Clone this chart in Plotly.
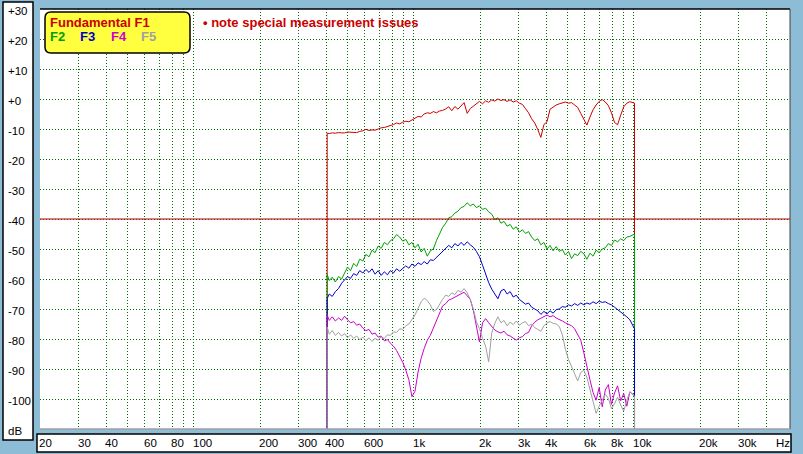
import numpy as np
import plotly.graph_objects as go

# ---------------- data ----------------
FREQ_HZ = [404, 413, 426, 440, 455, 470, 485, 500, 516, 533,
           550, 568, 587, 606, 626, 646, 667, 689, 711, 735,
           759, 783, 809, 835, 863, 891, 920, 950, 981, 1013,
           1046, 1080, 1115, 1152, 1189, 1228, 1268, 1310, 1352, 1397,
           1442, 1489, 1538, 1588, 1640, 1693, 1749, 1806, 1865, 1926,
           1989, 2054, 2121, 2190, 2262, 2335, 2412, 2490, 2572, 2656,
           2742, 2832, 2924, 3020, 3118, 3220, 3325, 3434, 3546, 3662,
           3781, 3905, 4032, 4164, 4300, 4440, 4585, 4735, 4889, 5049,
           5214, 5384, 5560, 5741, 5929, 6122, 6322, 6529, 6742, 6962,
           7189, 7424, 7666, 7917, 8175, 8442, 8718, 9002, 9296, 9600,
           10080]

F1_DB = [-11.4, -11.5, -11.3, -11.4, -11.2, -11.3, -11.3, -11.0, -11.1, -11.0,
         -11.2, -10.8, -10.6, -10.1, -10.5, -10.3, -10.4, -10.0, -9.6, -9.5,
         -9.2, -8.9, -8.5, -8.0, -8.3, -7.7, -7.4, -7.6, -6.9, -6.2,
         -5.8, -6.0, -5.0, -4.6, -4.8, -4.2, -4.6, -4.0, -3.8, -3.3,
         -2.6, -3.9, -2.5, -3.4, -2.2, -1.2, -4.8, -3.2, -2.4, -1.6,
         -0.8, -1.6, -0.6, -1.1, -0.3, -0.7, 0.0, -0.5, -0.2, -0.8,
         -0.3, -1.0, -0.6, -1.4, -1.8, -3.2, -4.6, -6.6, -8.0, -10.2,
         -12.8, -8.5, -7.6, -3.4, -2.6, -2.0, -1.6, -1.2, -1.0, -1.4,
         -1.2, -2.0, -2.8, -4.8, -6.6, -8.7, -6.0, -3.6, -2.0, -0.8,
         -0.2, -1.0, -2.2, -4.6, -7.8, -8.6, -5.4, -2.6, -1.4, -0.9,
         -1.4]

F2_DB = [-58.5, -60.5, -59.4, -61.0, -59.2, -60.0, -58.0, -56.0, -57.2, -54.8,
         -55.8, -53.4, -54.0, -51.8, -52.6, -50.4, -51.2, -49.0, -49.8, -47.8,
         -48.6, -47.2, -46.6, -45.2, -46.0, -47.4, -46.8, -48.6, -47.8, -49.6,
         -48.4, -51.0, -49.8, -52.4, -50.6, -50.0, -47.2, -45.0, -42.8, -41.4,
         -39.6, -39.2, -38.0, -37.4, -36.2, -35.8, -34.6, -35.6, -35.0, -36.2,
         -35.6, -36.8, -36.4, -37.6, -38.4, -40.2, -39.6, -41.4, -40.8, -42.4,
         -41.8, -43.4, -42.6, -44.4, -43.6, -44.8, -44.2, -46.0, -47.2, -46.6,
         -48.6, -47.8, -50.0, -48.8, -50.6, -49.2, -50.8, -50.2, -52.0, -50.8,
         -53.2, -51.6, -52.2, -50.8, -51.6, -53.4, -51.4, -52.4, -50.4, -51.2,
         -50.0, -49.6, -48.2, -48.8, -47.0, -47.6, -46.6, -47.2, -46.0, -45.8,
         -45.0]

F3_DB = [-66.5, -65.0, -65.8, -64.2, -63.2, -61.4, -60.4, -59.2, -59.8, -58.2,
         -58.8, -57.2, -58.0, -56.8, -57.8, -56.6, -58.4, -57.2, -58.8, -57.6,
         -58.6, -57.2, -58.0, -56.6, -57.4, -56.4, -55.6, -56.4, -55.0, -55.8,
         -54.6, -55.2, -54.2, -55.0, -53.6, -53.8, -52.8, -51.8, -50.6, -49.8,
         -48.8, -49.6, -48.2, -49.0, -47.8, -48.8, -47.6, -48.6, -49.4, -50.8,
         -52.6, -55.4, -58.6, -61.2, -63.4, -65.2, -66.6, -64.0, -63.4, -65.0,
         -64.2, -66.0, -65.4, -66.8, -67.6, -68.4, -68.0, -69.4, -70.0, -70.6,
         -71.8, -70.8, -71.6, -70.6, -71.4, -70.2, -70.0, -69.2, -69.4, -68.6,
         -69.0, -68.2, -68.8, -68.0, -68.6, -68.0, -68.4, -67.6, -68.2, -67.4,
         -67.8, -67.6, -68.2, -68.6, -69.4, -70.2, -70.8, -71.6, -72.6, -73.6,
         -76.6]

F4_DB = [-72.0, -73.8, -72.6, -74.0, -73.0, -73.8, -72.4, -73.6, -74.6, -74.2,
         -75.4, -75.0, -76.4, -77.2, -76.8, -78.4, -78.0, -79.4, -79.0, -80.6,
         -80.2, -81.4, -82.4, -83.8, -85.6, -87.8, -90.4, -93.6, -99.2, -97.4,
         -91.0, -86.4, -83.2, -80.4, -78.8, -76.2, -73.8, -71.2, -69.0, -68.2,
         -67.0, -66.6, -66.0, -65.6, -65.0, -64.4, -65.6, -66.8, -70.4, -75.8,
         -81.0, -74.6, -73.2, -74.6, -75.8, -77.0, -77.6, -78.0, -77.4, -78.6,
         -79.0, -79.8, -80.4, -79.6, -79.2, -78.2, -77.8, -75.6, -74.4, -73.6,
         -73.0, -72.4, -72.0, -72.6, -72.2, -73.0, -73.4, -74.0, -74.6, -75.0,
         -75.6, -76.6, -78.4, -80.4, -84.6, -88.6, -93.6, -97.8, -100.4, -96.2,
         -102.6, -97.0, -95.2, -101.8, -98.0, -95.6, -100.6, -98.2, -102.4, -97.6,
         -99.0]

F5_DB = [-76.0, -78.4, -77.2, -78.8, -77.8, -79.0, -78.2, -79.6, -78.6, -79.8,
         -79.0, -80.2, -79.4, -80.6, -79.6, -80.8, -79.8, -80.4, -79.2, -79.8,
         -78.6, -78.8, -77.6, -77.8, -76.6, -76.8, -75.6, -75.0, -73.4, -72.0,
         -69.8, -67.6, -66.4, -67.2, -68.6, -70.8, -70.2, -68.4, -66.8, -65.4,
         -65.8, -64.6, -65.2, -63.8, -64.4, -63.2, -64.6, -66.8, -70.0, -74.2,
         -76.6, -79.8, -82.4, -87.6, -78.0, -74.8, -72.6, -74.6, -73.8, -75.6,
         -74.4, -75.2, -74.0, -75.4, -74.6, -74.2, -75.6, -75.0, -76.2, -76.8,
         -77.4, -75.6, -74.6, -74.2, -74.8, -75.0, -75.8, -78.6, -83.4, -86.8,
         -89.4, -91.6, -94.0, -91.2, -90.4, -92.8, -96.6, -101.0, -104.8, -102.4,
         -100.6, -98.4, -99.8, -103.2, -101.6, -99.4, -102.0, -104.0, -100.4, -97.6,
         -99.0]

SERIES_NAMES = ["Fundamental F1", "F2", "F3", "F4", "F5"]
SERIES_COLORS = ["#cc0000", "#00a000", "#0000cc", "#cc00cc", "#a0a0a0"]

Y_TICKS = [30, 20, 10, 0, -10, -20, -30, -40, -50, -60, -70, -80, -90, -100]
Y_TICK_LABELS = ["+30", "+20", "+10", "+0", "-10", "-20", "-30", "-40", "-50",
                 "-60", "-70", "-80", "-90", "-100"]
X_TICKS = [20, 30, 40, 60, 80, 100, 200, 300, 400, 600, 1000, 2000, 3000, 4000,
           6000, 8000, 10000, 20000, 30000]
X_TICK_LABELS = ["20", "30", "40", "60", "80", "100", "200", "300", "400", "600",
                 "1k", "2k", "3k", "4k", "6k", "8k", "10k", "20k", "30k"]
GRID_FREQS = [m * 10 ** e for e in range(1, 5) for m in range(1, 10)
              if 20 <= m * 10 ** e <= 40000]

NOTE_TEXT = "• note special measurement issues"
FLOOR_DB = -125

# ---------------- layout helpers ----------------
W, H = 803, 454
L, R, T, B = 40, 13, 9, 25
PW, PH = W - L - R, H - T - B


def px(xp):
    return (xp - L) / PW


def py(yp):
    return (H - B - yp) / PH


FONT = "Liberation Sans, Arial, sans-serif"
GRID_COLOR = "#006e00"

fig = go.Figure()
series = [F1_DB, F2_DB, F3_DB, F4_DB, F5_DB]
for name, color, vals in zip(SERIES_NAMES, SERIES_COLORS, series):
    xs = [FREQ_HZ[0]] + FREQ_HZ + [FREQ_HZ[-1]]
    ys = [FLOOR_DB] + vals + [FLOOR_DB]
    fig.add_trace(go.Scatter(x=xs, y=ys, mode="lines", name=name,
                             line=dict(color=color, width=1),
                             hoverinfo="skip"))

x_lo = np.log10(20)
x_hi = x_lo + PW / 220.0

fig.update_layout(
    width=W, height=H,
    margin=dict(l=L, r=R, t=T, b=B, pad=0),
    paper_bgcolor="#8cbcd6",
    plot_bgcolor="white",
    showlegend=False,
    font=dict(family=FONT, size=11, color="black"),
    xaxis=dict(type="log", range=[x_lo, x_hi], tickmode="array",
               tickvals=GRID_FREQS, showticklabels=False, ticks="",
               showgrid=True, gridcolor=GRID_COLOR, gridwidth=1,
               griddash="1px,2px", zeroline=False, showline=False,
               fixedrange=True),
    yaxis=dict(range=[-110, 30], tickmode="array", tickvals=Y_TICKS,
               showticklabels=False, ticks="", showgrid=True,
               gridcolor=GRID_COLOR, gridwidth=1, griddash="1px,2px",
               zeroline=False, showline=False, fixedrange=True),
)

shapes = []
# left label panel
shapes.append(dict(type="rect", xref="paper", yref="paper",
                   x0=px(3), x1=px(33), y0=py(440), y1=py(2),
                   fillcolor="white", line=dict(color="black", width=1.5)))
# bottom label panel
shapes.append(dict(type="rect", xref="paper", yref="paper",
                   x0=px(37), x1=px(791), y0=py(452), y1=py(434),
                   fillcolor="white", line=dict(color="black", width=1.5)))
# plot borders
shapes.append(dict(type="line", xref="paper", yref="paper", x0=0, x1=1, y0=1, y1=1,
                   line=dict(color="black", width=1.5)))
shapes.append(dict(type="line", xref="paper", yref="paper", x0=1, x1=1, y0=0, y1=1,
                   line=dict(color="#404040", width=1)))
shapes.append(dict(type="line", xref="paper", yref="paper", x0=0, x1=1, y0=0, y1=0,
                   line=dict(color="#a0a0a0", width=1.5)))
# -40 dB reference line
shapes.append(dict(type="line", xref="paper", yref="y", x0=0, x1=1, y0=-40, y1=-40,
                   line=dict(color="#c00000", width=1)))
# legend rounded box
x0, x1, yt, yb = px(45), px(190), py(12), py(53)
rx, ry = 6 / PW, 6 / PH
path = (f"M {x0+rx},{yt} L {x1-rx},{yt} Q {x1},{yt} {x1},{yt-ry} "
        f"L {x1},{yb+ry} Q {x1},{yb} {x1-rx},{yb} L {x0+rx},{yb} "
        f"Q {x0},{yb} {x0},{yb+ry} L {x0},{yt-ry} Q {x0},{yt} {x0+rx},{yt} Z")
shapes.append(dict(type="path", xref="paper", yref="paper", path=path,
                   fillcolor="#ffff40", line=dict(color="black", width=1.5)))
fig.update_layout(shapes=shapes)

ann = []
for v, t in zip(Y_TICKS, Y_TICK_LABELS):
    ann.append(dict(x=px(7), y=v, xref="paper", yref="y", text=t, showarrow=False,
                    xanchor="left", yanchor="middle", yshift=-1.5, borderpad=0,
                    font=dict(family=FONT, size=11.5, color="black")))
ann.append(dict(x=px(7), y=-110, xref="paper", yref="y", text="dB", showarrow=False,
                xanchor="left", yanchor="middle", yshift=-2, borderpad=0,
                font=dict(family=FONT, size=11.5, color="black")))
for v, t in zip(X_TICKS, X_TICK_LABELS):
    ann.append(dict(x=np.log10(v), y=py(443), xref="x", yref="paper", text=t,
                    showarrow=False, xanchor="left", yanchor="middle", xshift=-2,
                    borderpad=0, font=dict(family=FONT, size=11.5, color="black")))
ann.append(dict(x=px(775), y=py(443), xref="paper", yref="paper", text="Hz",
                showarrow=False, xanchor="left", yanchor="middle", borderpad=0,
                font=dict(family=FONT, size=11.5, color="black")))

# legend texts
ann.append(dict(x=px(49), y=py(22), xref="paper", yref="paper", text="<b>" + SERIES_NAMES[0] + "</b>",
                showarrow=False, xanchor="left", yanchor="middle", borderpad=0,
                font=dict(family=FONT, size=13, color=SERIES_COLORS[0])))
for name, color, xp in zip(SERIES_NAMES[1:], SERIES_COLORS[1:], [49, 79, 110, 140]):
    ann.append(dict(x=px(xp), y=py(37), xref="paper", yref="paper", text="<b>" + name + "</b>",
                    showarrow=False, xanchor="left", yanchor="middle", borderpad=0,
                    font=dict(family=FONT, size=13, color=color)))
ann.append(dict(x=px(202), y=py(23), xref="paper", yref="paper", text="<b>" + NOTE_TEXT + "</b>",
                showarrow=False, xanchor="left", yanchor="middle", borderpad=0,
                font=dict(family=FONT, size=13, color="#cc0000")))
fig.update_layout(annotations=ann)

fig.write_html("out.html",
               config={"displayModeBar": False, "staticPlot": True},
               post_script="document.body.style.margin='0';document.body.style.overflow='hidden';")
